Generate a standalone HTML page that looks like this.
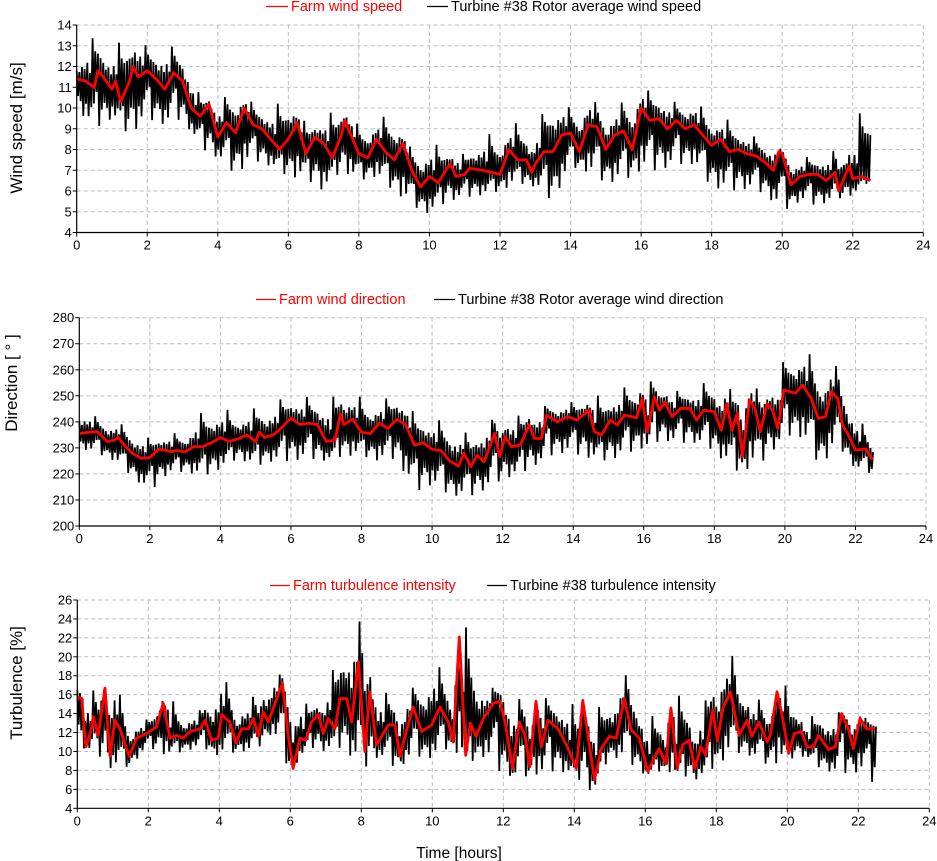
<!DOCTYPE html>
<html><head><meta charset="utf-8">
<style>
html,body{margin:0;padding:0;background:#fff;}
svg{display:block;font-family:"Liberation Sans",Arial,sans-serif;}
</style></head>
<body>
<svg id="root" width="937" height="861" viewBox="0 0 937 861" xmlns="http://www.w3.org/2000/svg"></svg>
<script>
// ---------- Data: chart 1 (wind speed) ----------
const speedRedT = [0,0.25,0.5,0.6,0.75,1.0,1.1,1.25,1.5,1.6,1.75,2.0,2.25,2.5,2.75,3.0,3.25,3.5,3.75,4.0,4.25,4.5,4.75,5.0,5.25,5.5,5.75,6.0,6.25,6.5,6.75,7.0,7.25,7.5,7.6,8.0,8.25,8.5,8.75,9.0,9.25,9.5,9.75,10.0,10.25,10.5,10.6,10.75,11.0,11.14,11.5,11.75,12.0,12.25,12.5,12.75,12.9,13.0,13.25,13.5,13.75,14.0,14.25,14.5,14.75,15.0,15.25,15.5,15.75,16.0,16.25,16.5,16.75,17.0,17.25,17.5,17.75,18.0,18.25,18.5,18.75,19.0,19.25,19.5,19.75,19.9,20.0,20.25,20.5,20.75,21.0,21.25,21.5,21.6,21.9,22.0,22.25,22.5];
const speedRedV = [11.4,11.3,11.0,11.8,11.5,10.9,11.3,10.3,11.3,12.0,11.5,11.8,11.4,10.9,11.7,11.3,10.0,9.6,10.2,8.6,9.3,8.8,10.0,9.2,9.0,8.5,8.0,8.5,9.3,7.8,8.6,8.3,7.6,8.7,9.4,7.8,7.6,8.5,7.9,7.5,8.3,7.0,6.2,6.7,6.4,7.1,7.3,6.7,6.8,7.1,7.0,6.9,6.8,8.0,7.5,7.5,6.9,7.3,7.9,7.9,8.7,8.8,7.9,9.2,9.1,8.0,8.7,8.9,8.0,10.0,9.4,9.5,9.0,9.4,9.0,9.2,8.7,8.2,8.5,7.9,8.0,7.8,7.7,7.4,7.0,7.9,7.8,6.3,6.7,6.8,6.8,6.5,6.9,6.0,7.2,6.6,6.7,6.5];
const speedBlkT = [0,0.5,1,1.5,2,2.5,3,3.5,4,4.5,5,5.5,6,6.5,7,7.5,8,8.5,9,9.5,10,10.5,11,11.5,12,12.5,13,13.5,14,14.5,15,15.5,16,16.5,17,17.5,18,18.5,19,19.5,20,20.5,21,21.5,22,22.5];
const speedBlkLo = [10.0,9.0,9.5,8.7,9.5,9.2,9.5,8.1,7.6,6.8,7.5,7.2,6.7,6.6,6.0,7.0,6.5,6.7,6.0,5.3,4.9,5.5,5.7,5.8,6.0,6.4,6.2,5.5,7.2,6.9,6.4,6.5,7.0,7.0,7.3,7.3,6.2,6.0,6.1,5.9,5.0,5.5,5.3,5.6,5.8,6.5];
const speedBlkHi = [12.4,13.6,12.8,14.0,13.0,13.2,12.8,10.6,10.4,10.9,10.3,10.0,10.8,9.3,9.6,10.3,9.2,9.5,9.9,8.0,8.4,8.2,7.8,8.8,8.9,9.4,9.0,11.0,10.0,10.7,9.8,10.4,11.0,10.8,10.3,10.5,9.6,9.5,8.8,8.5,8.0,7.6,7.8,8.0,8.5,12.0];
const speedTicks = [4,5,6,7,8,9,10,11,12,13,14];

// ---------- Data: chart 2 (direction) ----------
const dirRedT = [0,0.25,0.5,0.8,1.0,1.1,1.25,1.5,1.75,2.0,2.25,2.5,2.6,2.75,3.0,3.25,3.5,3.75,4.0,4.25,4.5,4.75,5.0,5.1,5.25,5.5,5.75,6.0,6.25,6.5,6.75,7.0,7.25,7.4,7.5,7.75,8.0,8.25,8.5,8.75,9.0,9.25,9.5,9.75,10.0,10.25,10.5,10.75,10.9,11.1,11.28,11.47,11.6,11.77,11.92,12.07,12.25,12.5,12.75,12.9,13.1,13.25,13.55,13.85,14.1,14.45,14.6,14.8,15.05,15.25,15.45,15.8,15.95,16.1,16.3,16.45,16.6,16.8,17.05,17.3,17.5,17.7,18.0,18.2,18.35,18.5,18.65,18.8,19.0,19.15,19.3,19.5,19.65,19.8,19.97,20.3,20.5,20.75,20.95,21.15,21.32,21.5,21.63,21.8,22.0,22.3,22.45,22.5];
const dirRedV = [235.5,236,236.3,232.4,233,234,231.5,228,226,226.3,229.5,229,228.5,229,228.5,230.5,230.5,232,234,232.5,233.5,235,232.5,236,234,235,238,241.5,239,239.5,239,232.5,233,243,239,241,236,235.5,239.5,237.5,241,239,231,232,229.5,229,225,223,228,222.8,227.2,224.7,229.2,235.6,226.6,234.3,230.4,231.1,238.8,233.6,233.6,242.6,240,242,240.7,244.5,236.2,234.9,240.7,238.8,242.6,241.5,249,236.2,249.6,244.5,247.7,242,245.2,245.2,240.7,244.5,243.9,236.8,247,236.8,243.3,226.6,248.4,245.2,236.2,247,244.5,237.5,252.2,251,254.1,249,241.3,242,251.6,249,238.8,235,229.2,229.6,226,226];
const dirBlkT = [0,0.5,1,1.5,2,2.5,3,3.5,4,4.5,5,5.5,6,6.5,7,7.5,8,8.5,9,9.5,10,10.5,11,11.5,12,12.5,13,13.5,14,14.5,15,15.5,16,16.5,17,17.5,18,18.5,19,19.5,20,20.5,21,21.5,22,22.5];
const dirBlkLo = [230,228,225,219,213,220,221,219,222,226,223,225,225,226,225,227,227,225,226,213,216,212,211,214,218,220,224,228,228,226,225,228,230,233,232,232,229,221,222,226,235,234,223,231,222,220];
const dirBlkHi = [247,242,241,237,234,236,236,245,246,244,246,248,251,250,249,253,250,248,252,244,242,240,236,240,243,243,246,247,248,250,252,254,257,255,252,255,256,253,255,251,265,270,262,262,245,232];
const dirTicks = [200,210,220,230,240,250,260,270,280];

// ---------- Data: chart 3 (turbulence) ----------
const turbRedT = [0,0.12,0.24,0.38,0.45,0.59,0.78,0.92,1.06,1.2,1.46,1.67,1.95,2.23,2.42,2.61,2.8,2.99,3.17,3.46,3.6,3.78,3.97,4.07,4.3,4.47,4.63,4.82,4.96,5.1,5.24,5.38,5.62,5.78,5.94,6.08,6.27,6.44,6.6,6.79,6.93,7.07,7.26,7.4,7.59,7.73,7.92,8.1,8.24,8.43,8.62,8.76,8.95,9.09,9.28,9.46,9.7,9.98,10.22,10.45,10.59,10.76,10.94,11.07,11.23,11.44,11.72,11.9,12.05,12.26,12.45,12.61,12.75,12.92,13.07,13.26,13.54,13.78,14.06,14.24,14.57,14.76,14.99,15.18,15.41,15.6,15.83,16.07,16.25,16.39,16.58,16.72,16.9,17.05,17.23,17.4,17.56,17.7,17.9,18.03,18.19,18.4,18.64,18.87,19.0,19.2,19.43,19.52,19.71,19.85,20.04,20.2,20.4,20.55,20.74,20.88,21.16,21.35,21.53,21.72,21.86,22.05,22.23,22.47];
const turbRedV = [15.8,15.6,10.5,12.1,13.7,11.7,16.7,9.5,13.3,12.4,9.5,11.4,11.9,12.6,15.1,11.4,11.7,11.4,12.1,12.4,13.3,11.2,11.4,13.9,13.1,10.9,12.4,12.4,13.5,11.6,14.2,13.1,15.6,17.2,11.7,8.2,11.4,11.2,13.1,13.9,11.9,13.5,12.4,15.6,15.6,13.1,19.5,10.0,16.3,10.7,11.9,12.8,12.8,9.5,12.3,14.7,12.1,12.8,14.7,13.1,11.0,22.1,9.6,13.0,11.6,13.5,15.1,15.3,13.1,8.2,13.1,11.7,8.4,15.3,10.5,13.3,12.4,10.7,8.2,15.4,7.0,10.3,11.6,11.4,15.6,12.3,11.4,7.9,9.3,10.3,8.7,14.6,8.2,10.7,11.2,8.2,10.5,9.6,14.4,11.1,14.6,16.3,11.7,13.3,11.6,13.1,11.0,11.7,16.3,13.9,9.8,11.9,12.1,10.5,10.5,11.7,10.2,10.5,14.0,12.4,10.3,13.5,12.4,12.4];
const turbBlkT = [0,0.5,1,1.5,2,2.5,3,3.5,4,4.5,5,5.5,6,6.5,7,7.5,8,8.5,9,9.5,10,10.5,11,11.5,12,12.5,13,13.5,14,14.5,15,15.5,16,16.5,17,17.5,18,18.5,19,19.5,20,20.5,21,21.5,22,22.5];
const turbBlkLo = [10.5,10.0,8.0,8.5,10.5,9.6,10.0,10.5,9.5,10.0,10.0,12.0,7.8,10.5,10.0,10.5,8.0,9.5,8.2,9.5,9.3,10.5,8.8,9.5,7.5,7.3,7.6,8.0,7.5,5.7,9.5,9.0,7.5,8.0,7.5,7.0,8.5,10.0,9.5,8.5,9.2,9.5,8.0,7.7,7.8,6.5];
const turbBlkHi = [17.5,16.5,18.3,13.0,13.5,16.5,14.0,14.5,19.2,15.0,16.0,18.7,17.5,15.0,16.5,22.5,24.2,17.0,15.5,17.0,20.2,17.5,24.5,16.5,17.3,15.5,16.0,15.5,15.3,14.0,16.5,18.4,14.0,14.0,16.5,13.5,19.0,20.5,16.0,15.0,17.5,13.5,14.5,14.2,14.0,13.0];
const turbTicks = [4,6,8,10,12,14,16,18,20,22,24,26];

const xTicks = [0,2,4,6,8,10,12,14,16,18,20,22,24];

// ---------- Drawing ----------
const NS = 'http://www.w3.org/2000/svg';
const root = document.getElementById('root');
function mk(tag, attrs, parent){
  const e = document.createElementNS(NS, tag);
  for (const k in attrs) e.setAttribute(k, attrs[k]);
  (parent||root).appendChild(e);
  return e;
}
// spike-shape style pattern (relative amplitude of successive wiggles)
const pattern = [0.4,0.55,0.3,0.65,0.45,1,0.35,0.6,0.5,0.85,0.25,0.55,0.95,0.4,0.65,0.3,0.5,1,0.45,0.7];
function interp(T, V, t){
  if (t<=T[0]) return V[0];
  for (let i=1;i<T.length;i++){
    if (t<=T[i]){ const f=(t-T[i-1])/(T[i]-T[i-1]); return V[i-1]+f*(V[i]-V[i-1]); }
  }
  return V[V.length-1];
}

function chart(cfg){
  const g = mk('g', {});
  
  
  const X = t => cfg.x0 + (t/24)*(cfg.x1-cfg.x0);
  const Y = v => cfg.yb + (v-cfg.ymin)/(cfg.ymax-cfg.ymin)*(cfg.yt-cfg.yb);
  xTicks.forEach(t=>{
    if (t>0){
      const l = mk('line',{x1:X(t),x2:X(t),y1:cfg.yt,y2:cfg.yb,stroke:'#bdbdbd','stroke-dasharray':'4,3','stroke-width':1},g);
      
      
    }
  });
  cfg.yticks.forEach(v=>{
    if (v>cfg.ymin){
      const l = mk('line',{x1:cfg.x0,x2:X(24),y1:Y(v),y2:Y(v),stroke:'#bdbdbd','stroke-dasharray':'4,3','stroke-width':1},g);
      
      
    }
  });
  let pts = [];
  const N = 600;
  for (let k=0;k<=N;k++){
    const t = 22.5*k/N;
    const lo = interp(cfg.bT, cfg.bLo, t), hi = interp(cfg.bT, cfg.bHi, t);
    let mid = interp(cfg.rT, cfg.rV, t);
    mid = Math.min(hi, Math.max(lo, mid));
    const w = pattern[k%pattern.length];
    const v = (k%2===0) ? mid + w*(hi-mid) : mid - w*(mid-lo);
    pts.push(X(t).toFixed(1)+','+Y(v).toFixed(1));
  }
  const bl = mk('polyline',{points:pts.join(' '),fill:'none',stroke:'#000','stroke-width':1.8,'stroke-linejoin':'miter'},g);
  
  
  const rp = cfg.rT.map((t,i)=>X(t).toFixed(1)+','+Y(cfg.rV[i]).toFixed(1)).join(' ');
  const rl = mk('polyline',{points:rp,fill:'none',stroke:'#ff0000','stroke-width':2.8,'stroke-linejoin':'round'},g);
  
  
  const ax = mk('path',{d:`M${cfg.x0},${cfg.yt} V${cfg.yb} H${X(24)}`,fill:'none',stroke:'#000','stroke-width':1.2},g);
  
  
  cfg.yticks.forEach(v=>{
    mk('line',{x1:cfg.x0-4,x2:cfg.x0,y1:Y(v),y2:Y(v),stroke:'#000'},g);
    const t = mk('text',{x:cfg.x0-5,y:Y(v)+4.5,'text-anchor':'end','font-size':13,fill:'#000'},g);
    t.textContent = v;
    
    
  });
  xTicks.forEach(tv=>{
    mk('line',{x1:X(tv),x2:X(tv),y1:cfg.yb,y2:cfg.yb+4,stroke:'#000'},g);
    const t = mk('text',{x:X(tv),y:cfg.yb+17,'text-anchor':'middle','font-size':13,fill:'#000'},g);
    t.textContent = tv;
    
    
  });
  const yt = mk('text',{x:0,y:0,transform:`translate(${cfg.titleX},${cfg.titleY}) rotate(-90)`,'text-anchor':'middle','font-size':17,fill:'#000'},g);
  yt.textContent = cfg.ytitle;
  
  
  const L = cfg.leg;
  const le1 = mk('g',{},g);
  
  
  mk('line',{x1:L.r0,x2:L.r1,y1:L.y-4.5,y2:L.y-4.5,stroke:'#ff0000','stroke-width':1.3},le1);
  const t1 = mk('text',{x:L.r1+3,y:L.y,'font-size':14.5,fill:'#ff0000'},le1);
  t1.textContent = L.rt;
  const le2 = mk('g',{},g);
  
  
  mk('line',{x1:L.b0,x2:L.b1,y1:L.y-4.5,y2:L.y-4.5,stroke:'#000','stroke-width':1.3},le2);
  const t2 = mk('text',{x:L.b1+3,y:L.y,'font-size':14.5,fill:'#000'},le2);
  t2.textContent = L.bt;
}

chart({name:'wind-speed-chart',x0:76.7,x1:923.3,yt:25,yb:232.5,ymin:4,ymax:14,yticks:speedTicks,
  rT:speedRedT,rV:speedRedV,bT:speedBlkT,bLo:speedBlkLo,bHi:speedBlkHi,
  redName:'farm-wind-speed-line',blackName:'turbine-wind-speed-line',
  ytitle:'Wind speed [m/s]',titleX:22,titleY:128,
  leg:{y:11,r0:266,r1:288,rt:'Farm wind speed',b0:427,b1:448,bt:'Turbine #38 Rotor average wind speed'}});
chart({name:'wind-direction-chart',x0:79.3,x1:926,yt:317.7,yb:526,ymin:200,ymax:280,yticks:dirTicks,
  rT:dirRedT,rV:dirRedV,bT:dirBlkT,bLo:dirBlkLo,bHi:dirBlkHi,
  redName:'farm-wind-direction-line',blackName:'turbine-wind-direction-line',
  ytitle:'Direction [ ° ]',titleX:17,titleY:383,
  leg:{y:304,r0:256,r1:276,rt:'Farm wind direction',b0:434,b1:455,bt:'Turbine #38 Rotor average wind direction'}});
chart({name:'turbulence-chart',x0:77.3,x1:929.3,yt:600,yb:808.3,ymin:4,ymax:26,yticks:turbTicks,
  rT:turbRedT,rV:turbRedV,bT:turbBlkT,bLo:turbBlkLo,bHi:turbBlkHi,
  redName:'farm-turbulence-line',blackName:'turbine-turbulence-line',
  ytitle:'Turbulence [%]',titleX:22,titleY:683,
  leg:{y:590,r0:270,r1:290,rt:'Farm turbulence intensity',b0:487,b1:507,bt:'Turbine #38 turbulence intensity'}});

const xt = mk('text',{x:459,y:858,'text-anchor':'middle','font-size':15.5,fill:'#000'});
xt.textContent = 'Time [hours]';


</script>
</body></html>
